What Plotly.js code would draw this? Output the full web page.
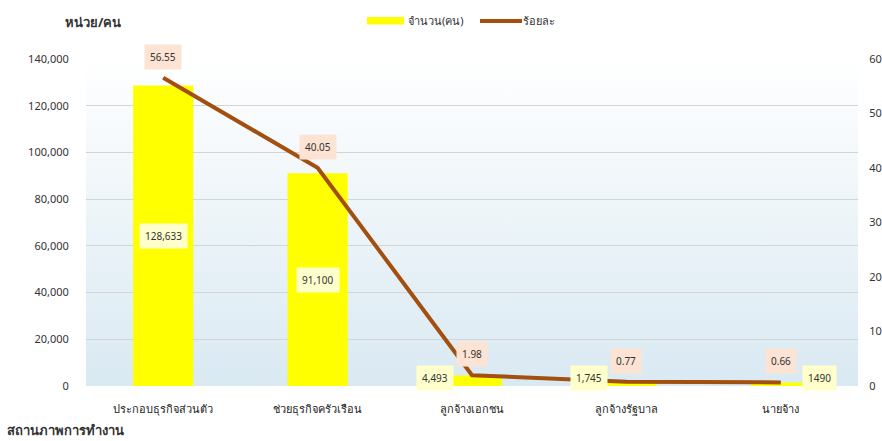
<!DOCTYPE html>
<html>
<head>
<meta charset="utf-8">
<script src="https://cdn.plot.ly/plotly-3.0.1.min.js"></script>
<style>
html,body{margin:0;padding:0;background:#fff;}
#chart{width:882px;height:441px;}
</style>
</head>
<body>
<div id="chart"></div>
<script>
// ---- data ----
const categories = ['ประกอบธุรกิจส่วนตัว','ช่วยธุรกิจครัวเรือน','ลูกจ้างเอกชน','ลูกจ้างรัฐบาล','นายจ้าง'];
const counts = [128633, 91100, 4493, 1745, 1490];
const countLabels = ['128,633','91,100','4,493','1,745','1490'];
const percents = [56.55, 40.05, 1.98, 0.77, 0.66];
const percentLabels = ['56.55','40.05','1.98','0.77','0.66'];
const leftTicks = [0,20000,40000,60000,80000,100000,120000,140000];
const rightTicks = [0,10,20,30,40,50,60];
const seriesNames = ['จำนวน(คน)', 'ร้อยละ'];

// ---- style ----
const FONT = 'Noto Sans, sans-serif';
const TXT = '#333333';
const BAR_COLOR = '#ffff00';
const LINE_COLOR = '#a24f10';
const countLabelSide = ['center','center','left','left','right'];

const L = 86, R = 24, T = 59, B = 55, W = 882, H = 441;
const pw = W - L - R, ph = H - T - B;
const px2x = p => (p - L) / pw;
const py2y = p => (H - B - p) / ph;

const gradSvg = '<svg xmlns="http://www.w3.org/2000/svg" width="10" height="100" preserveAspectRatio="none">' +
  '<defs><linearGradient id="g" x1="0" y1="0" x2="0" y2="1">' +
  '<stop offset="0" stop-color="#ffffff"/><stop offset="1" stop-color="#d9e9f2"/></linearGradient></defs>' +
  '<rect width="10" height="100" fill="url(#g)"/></svg>';
const gradUri = 'data:image/svg+xml;base64,' + btoa(gradSvg);

const traces = [
  {
    type: 'bar', name: seriesNames[0], x: categories, y: counts,
    marker: {color: BAR_COLOR}, width: 0.39, yaxis: 'y', hoverinfo: 'skip', showlegend: false
  },
  {
    type: 'scatter', mode: 'lines', name: seriesNames[1], x: categories, y: percents,
    line: {color: LINE_COLOR, width: 4}, yaxis: 'y2', hoverinfo: 'skip', showlegend: false
  }
];

const annotations = [];
categories.forEach((c, i) => {
  const side = countLabelSide[i];
  if (side === 'center') {
    annotations.push({x: c, y: counts[i] / 2, xref: 'x', yref: 'y', text: countLabels[i],
      showarrow: false, bgcolor: '#ffffcc', borderpad: 5,
      font: {family: FONT, size: 10, color: TXT}});
  } else {
    annotations.push({x: c, y: 0, xref: 'x', yref: 'y', text: countLabels[i],
      showarrow: false, bgcolor: '#ffffcc', borderpad: 5, yanchor: 'middle', yshift: 8,
      xshift: side === 'left' ? -37 : 39,
      font: {family: FONT, size: 10, color: TXT}});
  }
  annotations.push({x: c, y: percents[i], xref: 'x', yref: 'y2', text: percentLabels[i],
    showarrow: false, bgcolor: '#fce3d3', borderpad: 5, yshift: 21,
    font: {family: FONT, size: 10, color: TXT}});
});
// axis titles
annotations.push({x: px2x(63), y: py2y(22), xref: 'paper', yref: 'paper', text: '<b>หน่วย/คน</b>',
  showarrow: false, font: {family: FONT, size: 13, color: TXT}, xanchor: 'left', yanchor: 'middle'});
annotations.push({x: px2x(5), y: py2y(430), xref: 'paper', yref: 'paper', text: '<b>สถานภาพการทำงาน</b>',
  showarrow: false, font: {family: FONT, size: 13, color: TXT}, xanchor: 'left', yanchor: 'middle'});
// legend texts
annotations.push({x: px2x(406), y: py2y(21), xref: 'paper', yref: 'paper', text: seriesNames[0],
  showarrow: false, font: {family: FONT, size: 11, color: TXT}, xanchor: 'left', yanchor: 'middle'});
annotations.push({x: px2x(521), y: py2y(21), xref: 'paper', yref: 'paper', text: seriesNames[1],
  showarrow: false, font: {family: FONT, size: 11, color: TXT}, xanchor: 'left', yanchor: 'middle'});

const shapes = [
  {type: 'rect', xref: 'paper', yref: 'paper', x0: px2x(367), x1: px2x(404), y0: py2y(24.5), y1: py2y(17),
    fillcolor: BAR_COLOR, line: {width: 0}},
  {type: 'line', xref: 'paper', yref: 'paper', x0: px2x(480), x1: px2x(522), y0: py2y(21), y1: py2y(21),
    line: {color: LINE_COLOR, width: 4}}
];

const layout = {
  width: W, height: H,
  margin: {l: L, r: R, t: T, b: B},
  paper_bgcolor: '#ffffff',
  plot_bgcolor: 'rgba(0,0,0,0)',
  font: {family: FONT, size: 11, color: TXT},
  showlegend: false,
  xaxis: {type: 'category', range: [-0.5, 4.5], showgrid: false, zeroline: false, showline: false,
    ticks: 'outside', ticklen: 13, tickcolor: 'rgba(0,0,0,0)',
    tickfont: {family: FONT, size: 11, color: '#222'}, fixedrange: true},
  yaxis: {range: [0, 140000], tickvals: leftTicks, tickformat: ',d', showgrid: true,
    gridcolor: '#d4d4d4', gridwidth: 1, zeroline: false, showline: false,
    ticks: 'outside', ticklen: 14, tickcolor: 'rgba(0,0,0,0)',
    tickfont: {family: FONT, size: 11, color: TXT}},
  yaxis2: {range: [0, 60], tickvals: rightTicks, overlaying: 'y', side: 'right', showgrid: false,
    zeroline: false, showline: false, ticks: 'outside', ticklen: 8, tickcolor: 'rgba(0,0,0,0)',
    tickfont: {family: FONT, size: 11, color: TXT}},
  images: [{source: gradUri, xref: 'paper', yref: 'paper', x: 0, y: 1, sizex: 1, sizey: 1,
    sizing: 'stretch', layer: 'below', xanchor: 'left', yanchor: 'top'}],
  shapes: shapes,
  annotations: annotations
};

Plotly.newPlot('chart', traces, layout, {displayModeBar: false, staticPlot: true});
</script>
</body>
</html>
